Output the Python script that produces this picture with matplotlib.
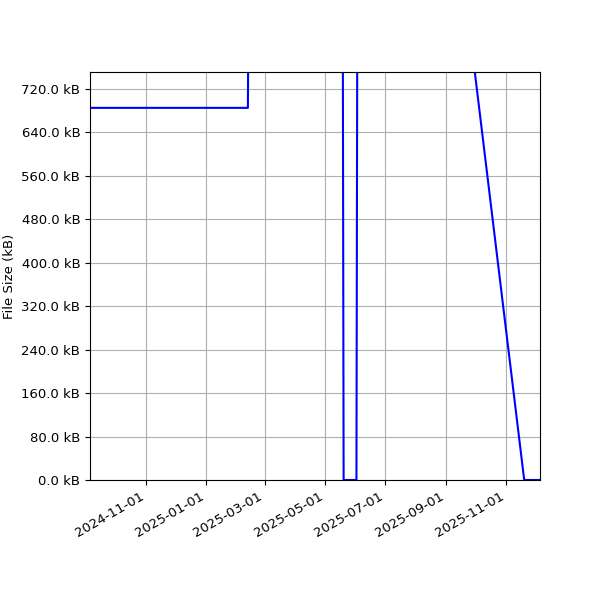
import matplotlib
matplotlib.use("Agg")
import matplotlib.pyplot as plt
import matplotlib.dates as mdates
from matplotlib.ticker import MultipleLocator, FuncFormatter
import pandas as pd

plt.rcParams["font.size"] = 9.5

# file size history (kB); values above the y-limit run off the top of the chart
dates = pd.to_datetime([
    "2024-09-05", "2025-02-12", "2025-02-13", "2025-05-19", "2025-05-20",
    "2025-06-02", "2025-06-03", "2025-09-15", "2025-11-19", "2025-12-05",
])
size_kb = [685, 685, 1000, 1000, 0, 0, 1000, 975, 0, 0]

fig, ax = plt.subplots(figsize=(6, 6), dpi=100)
ax.plot(dates, size_kb, color="blue", linewidth=1.5)

ax.set_xlim(dates[0], dates[-1])
ax.set_ylim(0, 751)
ax.yaxis.set_major_locator(MultipleLocator(80))
ax.yaxis.set_major_formatter(FuncFormatter(lambda v, p: f"{v:.1f} kB"))
ax.xaxis.set_major_locator(mdates.MonthLocator(bymonth=[1, 3, 5, 7, 9, 11]))
ax.xaxis.set_major_formatter(mdates.DateFormatter("%Y-%m-%d"))
ax.set_ylabel("File Size (kB)")
ax.grid(True)

fig.autofmt_xdate()
fig.subplots_adjust(left=0.15, right=0.9, top=0.88, bottom=0.2)
fig.savefig("out.png", dpi=100)
